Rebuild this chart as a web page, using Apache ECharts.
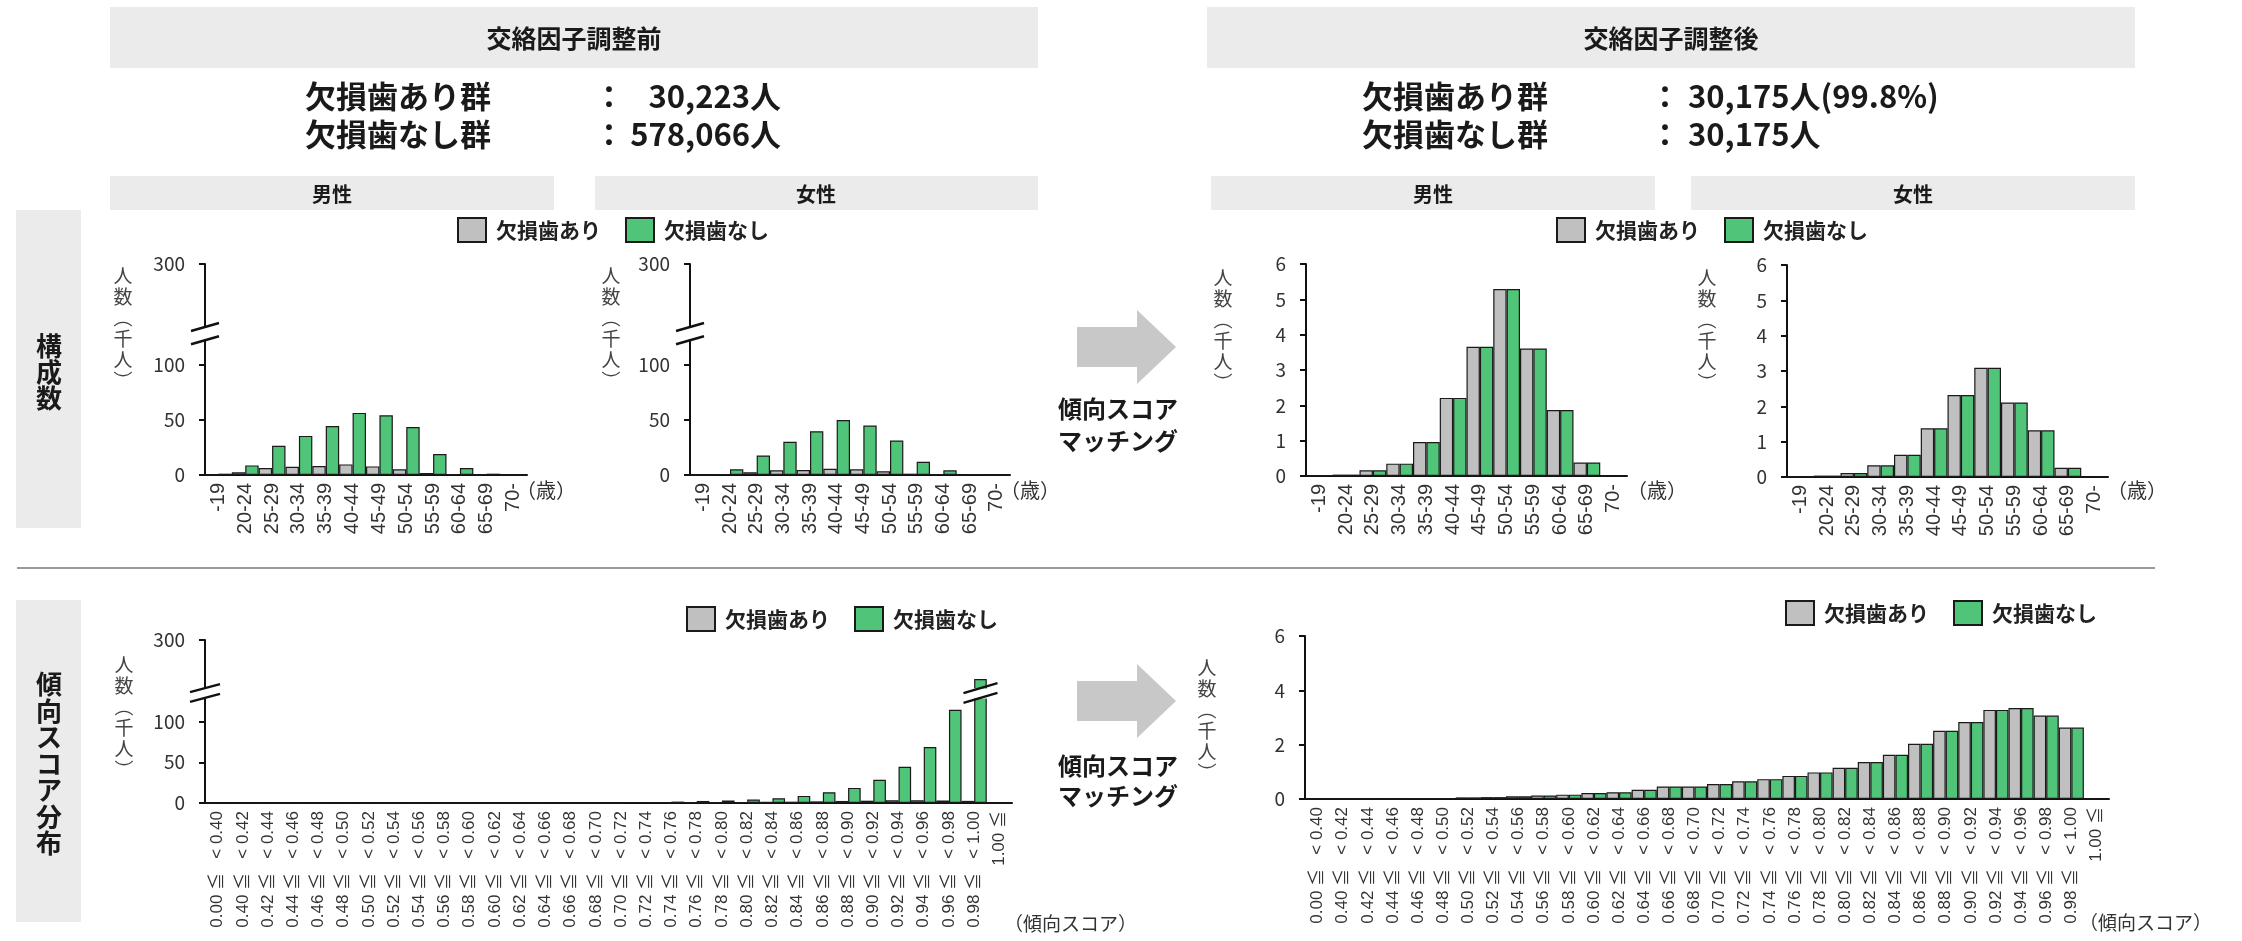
<!DOCTYPE html>
<html>
<head>
<meta charset="utf-8">
<script src="https://cdn.jsdelivr.net/npm/echarts@6.0.0/dist/echarts.min.js"></script>
<style>
  html, body { margin: 0; padding: 0; background: #fff; }
  #main { width: 2242px; height: 941px; }
</style>
</head>
<body>
<div id="main"></div>
<script>
// 年齢階級
var ageCategories = ['-19', '20-24', '25-29', '30-34', '35-39', '40-44', '45-49', '50-54', '55-59', '60-64', '65-69', '70-'];
var seriesNames = ['欠損歯あり', '欠損歯なし'];

// 構成数（千人） 交絡因子調整前
var maleBeforeWith = [0.1, 2.4, 6.3, 7.5, 8.1, 9.6, 7.8, 5.1, 1.8, 0.6, 0.2, 0.1];
var maleBeforeWithout = [1.2, 8.7, 26.4, 35.4, 44.4, 56.2, 54.0, 43.5, 18.9, 6.3, 1.2, 0.2];
var femaleBeforeWith = [0.1, 0.9, 2.4, 4.2, 4.5, 5.7, 5.1, 3.3, 1.2, 0.6, 0.3, 0.1];
var femaleBeforeWithout = [0.3, 5.1, 17.7, 30.0, 39.6, 49.8, 44.7, 31.2, 12.0, 4.2, 0.6, 0.1];

// 構成数（千人） 交絡因子調整後
var maleAfterWith = [0.02, 0.04, 0.16, 0.35, 0.96, 2.21, 3.66, 5.29, 3.61, 1.87, 0.38, 0];
var maleAfterWithout = [0.02, 0.04, 0.16, 0.35, 0.96, 2.21, 3.66, 5.29, 3.61, 1.87, 0.38, 0];
var femaleAfterWith = [0.01, 0.04, 0.11, 0.33, 0.63, 1.38, 2.32, 3.09, 2.11, 1.32, 0.26, 0];
var femaleAfterWithout = [0.01, 0.04, 0.11, 0.33, 0.63, 1.38, 2.32, 3.09, 2.11, 1.32, 0.26, 0];

// 傾向スコア階級
var scoreCategories = [
  '0.00 ≦   < 0.40', '0.40 ≦   < 0.42', '0.42 ≦   < 0.44', '0.44 ≦   < 0.46',
  '0.46 ≦   < 0.48', '0.48 ≦   < 0.50', '0.50 ≦   < 0.52', '0.52 ≦   < 0.54',
  '0.54 ≦   < 0.56', '0.56 ≦   < 0.58', '0.58 ≦   < 0.60', '0.60 ≦   < 0.62',
  '0.62 ≦   < 0.64', '0.64 ≦   < 0.66', '0.66 ≦   < 0.68', '0.68 ≦   < 0.70',
  '0.70 ≦   < 0.72', '0.72 ≦   < 0.74', '0.74 ≦   < 0.76', '0.76 ≦   < 0.78',
  '0.78 ≦   < 0.80', '0.80 ≦   < 0.82', '0.82 ≦   < 0.84', '0.84 ≦   < 0.86',
  '0.86 ≦   < 0.88', '0.88 ≦   < 0.90', '0.90 ≦   < 0.92', '0.92 ≦   < 0.94',
  '0.94 ≦   < 0.96', '0.96 ≦   < 0.98', '0.98 ≦   < 1.00', '1.00 ≦'
];

// 傾向スコア分布（千人）
var scoreBeforeWith = [0.005, 0.005, 0.01, 0.01, 0.03, 0.03, 0.06, 0.07, 0.10, 0.13, 0.16, 0.22, 0.25, 0.34, 0.46, 0.46,
  0.55, 0.65, 0.73, 0.85, 0.98, 1.15, 1.36, 1.63, 2.03, 2.51, 2.83, 3.28, 3.35, 3.07, 2.63, 0];
var scoreBeforeWithout = [0, 0, 0, 0, 0, 0, 0, 0, 0, 0, 0, 0, 0, 0.05, 0.1, 0.3,
  0.6, 1.2, 1.7, 2.5, 3.0, 4.2, 5.8, 8.7, 13.2, 18.5, 28.4, 44.4, 68.8, 114.4, 252, 0];
var scoreAfterWith = [0.005, 0.005, 0.01, 0.01, 0.03, 0.03, 0.06, 0.07, 0.10, 0.13, 0.16, 0.22, 0.25, 0.34, 0.46, 0.46,
  0.55, 0.65, 0.73, 0.85, 0.98, 1.15, 1.36, 1.63, 2.03, 2.51, 2.83, 3.28, 3.35, 3.07, 2.63, 0];
var scoreAfterWithout = [0.005, 0.005, 0.01, 0.01, 0.03, 0.03, 0.06, 0.07, 0.10, 0.13, 0.16, 0.22, 0.25, 0.34, 0.46, 0.46,
  0.55, 0.65, 0.73, 0.85, 0.98, 1.15, 1.36, 1.63, 2.03, 2.51, 2.83, 3.28, 3.35, 3.07, 2.63, 0];

// 軸目盛り
var brokenTicks = [0, 50, 100, 300];
var brokenRangeAge = [122, 243];
var brokenRangeScore = [129, 241];

// 人数のまとめ
var countsBefore = ['30,223人', '578,066人'];
var countsAfter = ['30,175人(99.8%)', '30,175人'];

var FONT_JP = "'Noto Sans CJK JP', sans-serif";
var FONT_LABEL = "'Liberation Sans', 'Noto Sans CJK JP', sans-serif";
var GRAY = '#c0c0c0';
var GREEN = '#50c478';
var BOX = '#ebebeb';

var chart = echarts.init(document.getElementById('main'));

var grids = [
  {left: 205, top: 264, width: 322, height: 211},
  {left: 690, top: 264, width: 320, height: 211},
  {left: 1306, top: 264, width: 321, height: 212},
  {left: 1787, top: 265, width: 321, height: 212},
  {left: 205, top: 640, width: 807, height: 163},
  {left: 1305, top: 636, width: 804, height: 163}
];

function xAxisFor(i, cats, fontSize) {
  return {
    gridIndex: i,
    type: 'category',
    data: cats,
    axisLine: {lineStyle: {color: '#111', width: 2}},
    axisTick: {show: false},
    axisLabel: {
      interval: 0, rotate: 90, margin: 8,
      fontSize: fontSize, color: '#333', fontFamily: FONT_LABEL
    },
    splitLine: {show: false}
  };
}

function yAxisFor(i, extra) {
  var axis = {
    gridIndex: i,
    type: 'value',
    min: 0,
    axisLine: {show: true, lineStyle: {color: '#111', width: 2}},
    axisTick: {show: true, length: 6, lineStyle: {color: '#111', width: 2}},
    axisLabel: {margin: 20, fontSize: 19, color: '#333', fontFamily: FONT_JP},
    splitLine: {show: false}
  };
  return Object.assign(axis, extra);
}

function brokenAxis(i, range, gap) {
  return yAxisFor(i, {
    max: 300,
    breaks: [{start: range[0], end: range[1], gap: gap}],
    breakArea: {
      show: true,
      itemStyle: {color: '#fff', borderWidth: 0, borderColor: 'transparent', opacity: 1},
      zigzagAmplitude: 0,
      zigzagZ: 100,
      expandOnClick: false
    },
    axisLabel: {customValues: brokenTicks, margin: 20, fontSize: 19, color: '#333', fontFamily: FONT_JP},
    axisTick: {customValues: brokenTicks, show: true, length: 6, lineStyle: {color: '#111', width: 2}}
  });
}

function bars(i, withData, withoutData) {
  var common = {
    type: 'bar', xAxisIndex: i, yAxisIndex: i,
    barGap: '0%', barCategoryGap: '0%'
  };
  return [
    Object.assign({name: seriesNames[0], data: withData,
      itemStyle: {color: GRAY, borderColor: '#1a1a1a', borderWidth: 1.2}}, common),
    Object.assign({name: seriesNames[1], data: withoutData,
      itemStyle: {color: GREEN, borderColor: '#1a1a1a', borderWidth: 1.2}}, common)
  ];
}

function legendAt(left, top) {
  return {
    data: seriesNames, left: left, top: top, padding: 0,
    icon: 'rect', itemWidth: 28, itemHeight: 24, itemGap: 24,
    selectedMode: false,
    textStyle: {fontSize: 21, fontWeight: 'bold', color: '#222', fontFamily: FONT_JP, padding: [0, 0, 0, 5]}
  };
}

function txt(text, x, y, size, weight, align, extra) {
  var style = {
    text: text, x: x, y: y, fontSize: size, fontWeight: weight || 'normal',
    fontFamily: FONT_JP, fill: '#1a1a1a', align: align || 'center', verticalAlign: 'middle'
  };
  return {type: 'text', z: 50, style: Object.assign(style, extra || {})};
}

function box(x, y, w, h) {
  return {type: 'rect', z: 0, shape: {x: x, y: y, width: w, height: h}, style: {fill: BOX}};
}

function arrow(yc) {
  return {
    type: 'polygon', z: 10,
    shape: {points: [[1077, yc - 20], [1137, yc - 20], [1137, yc - 37], [1176, yc], [1137, yc + 37], [1137, yc + 20], [1077, yc + 20]]},
    style: {fill: '#c8c8c8'}
  };
}

var axisName = '人\n数\n︵\n千\n人\n︶';
var nameStyle = {lineHeight: 21, fill: '#444'};

var staticGraphics = [
  box(110, 7, 928, 61), box(1207, 7, 928, 61),
  txt('交絡因子調整前', 574, 38, 25, 'bold'),
  txt('交絡因子調整後', 1671, 38, 25, 'bold'),
  txt('欠損歯あり群', 305, 96, 31, 'bold', 'left'),
  txt('欠損歯なし群', 305, 134, 31, 'bold', 'left'),
  txt('：', 609, 96, 31, 'bold'), txt('：', 609, 134, 31, 'bold'),
  txt(countsBefore[0], 781, 96, 31, 'bold', 'right'),
  txt(countsBefore[1], 781, 134, 31, 'bold', 'right'),
  txt('欠損歯あり群', 1362, 96, 31, 'bold', 'left'),
  txt('欠損歯なし群', 1362, 134, 31, 'bold', 'left'),
  txt('：', 1665, 96, 31, 'bold'), txt('：', 1665, 134, 31, 'bold'),
  txt(countsAfter[0], 1688, 96, 31, 'bold', 'left'),
  txt(countsAfter[1], 1688, 134, 31, 'bold', 'left'),
  box(110, 176, 444, 34), box(595, 176, 443, 34),
  box(1211, 176, 444, 34), box(1691, 176, 444, 34),
  txt('男性', 332, 194, 20, 'bold'), txt('女性', 816, 194, 20, 'bold'),
  txt('男性', 1433, 194, 20, 'bold'), txt('女性', 1913, 194, 20, 'bold'),
  box(16, 210, 65, 318), box(16, 600, 65, 322),
  txt('構\n成\n数', 49, 372, 26, 'bold', 'center', {lineHeight: 26}),
  txt('傾\n向\nス\nコ\nア\n分\n布', 49, 764, 26, 'bold', 'center', {lineHeight: 26.5}),
  {type: 'line', z: 5, shape: {x1: 17, y1: 568, x2: 2155, y2: 568}, style: {stroke: '#9a9a9a', lineWidth: 2}},
  arrow(347), arrow(701),
  txt('傾向スコア', 1058, 409, 24, 'bold', 'left'),
  txt('マッチング', 1058, 441, 24, 'bold', 'left'),
  txt('傾向スコア', 1058, 766, 24, 'bold', 'left'),
  txt('マッチング', 1058, 796, 24, 'bold', 'left'),
  txt(axisName, 123, 328, 19, 'normal', 'center', nameStyle),
  txt(axisName, 611, 328, 19, 'normal', 'center', nameStyle),
  txt(axisName, 1223, 330, 19, 'normal', 'center', nameStyle),
  txt(axisName, 1707, 330, 19, 'normal', 'center', nameStyle),
  txt(axisName, 124, 717, 19, 'normal', 'center', nameStyle),
  txt(axisName, 1207, 720, 19, 'normal', 'center', nameStyle),
  txt('（歳）', 516, 490, 20, 'normal', 'left', {fill: '#333'}),
  txt('（歳）', 1000, 490, 20, 'normal', 'left', {fill: '#333'}),
  txt('（歳）', 1627, 490, 20, 'normal', 'left', {fill: '#333'}),
  txt('（歳）', 2107, 490, 20, 'normal', 'left', {fill: '#333'}),
  txt('（傾向スコア）', 1004, 924, 19, 'normal', 'left', {fill: '#333'}),
  txt('（傾向スコア）', 2079, 923, 19, 'normal', 'left', {fill: '#333'})
];

var option = {
  animation: false,
  backgroundColor: '#fff',
  grid: grids.map(function (g) {
    return Object.assign({containLabel: false, outerBoundsMode: 'none'}, g);
  }),
  legend: [legendAt(457, 217), legendAt(1556, 217), legendAt(686, 606), legendAt(1785, 600)],
  xAxis: [
    xAxisFor(0, ageCategories, 20), xAxisFor(1, ageCategories, 20),
    xAxisFor(2, ageCategories, 20), xAxisFor(3, ageCategories, 20),
    xAxisFor(4, scoreCategories, 17), xAxisFor(5, scoreCategories, 17)
  ],
  yAxis: [
    brokenAxis(0, brokenRangeAge, 12),
    brokenAxis(1, brokenRangeAge, 12),
    yAxisFor(2, {max: 6, interval: 1}),
    yAxisFor(3, {max: 6, interval: 1}),
    brokenAxis(4, brokenRangeScore, 12),
    yAxisFor(5, {max: 6, interval: 2})
  ],
  series: [].concat(
    bars(0, maleBeforeWith, maleBeforeWithout),
    bars(1, femaleBeforeWith, femaleBeforeWithout),
    bars(2, maleAfterWith, maleAfterWithout),
    bars(3, femaleAfterWith, femaleAfterWithout),
    bars(4, scoreBeforeWith, scoreBeforeWithout),
    bars(5, scoreAfterWith, scoreAfterWithout)
  ),
  graphic: staticGraphics
};

chart.setOption(option);

// 軸の省略記号（二重斜線）
function slashes(yAxisIndex, range, cx, halfW, rise) {
  var yLow = chart.convertToPixel({yAxisIndex: yAxisIndex}, range[0]);
  var yHigh = chart.convertToPixel({yAxisIndex: yAxisIndex}, range[1]);
  return [yHigh, yLow].map(function (y) {
    return {
      type: 'line', z: 200,
      shape: {x1: cx - halfW, y1: y + rise, x2: cx + halfW, y2: y - rise},
      style: {stroke: '#111', lineWidth: 2.5}
    };
  });
}

var lastIdx = scoreCategories.length - 2;
var c0 = chart.convertToPixel({xAxisIndex: 4}, scoreCategories[lastIdx]);
var c1 = chart.convertToPixel({xAxisIndex: 4}, scoreCategories[lastIdx + 1]);
var barCenter = c0 + (c1 - c0) / 4;

var extra = [].concat(
  slashes(0, brokenRangeAge, grids[0].left, 14, 4),
  slashes(1, brokenRangeAge, grids[1].left, 14, 4),
  slashes(4, brokenRangeScore, grids[4].left, 15, 4),
  slashes(4, brokenRangeScore, barCenter, 17, 5)
);

chart.setOption({graphic: staticGraphics.concat(extra)});
</script>
</body>
</html>
